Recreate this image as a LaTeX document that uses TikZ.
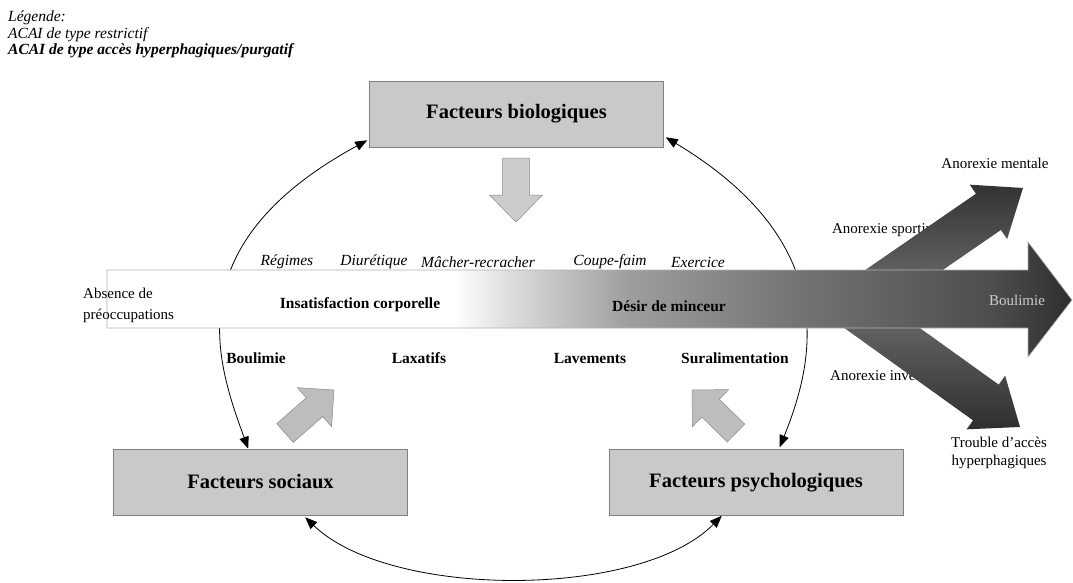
\documentclass[tikz,border=0pt]{standalone}
\usepackage{fontspec}
\setmainfont{Liberation Serif}
\usetikzlibrary{arrows.meta,calc}

\definecolor{boxfill}{gray}{0.79}
\definecolor{boxline}{gray}{0.5}
\definecolor{blockfill}{gray}{0.74}
\definecolor{blocklight}{gray}{0.80}
\definecolor{blockline}{gray}{0.55}
\definecolor{bs1}{gray}{0.86}
\definecolor{bs2}{gray}{0.62}
\definecolor{bs3}{gray}{0.45}
\definecolor{bs4}{gray}{0.30}
\definecolor{bs5}{gray}{0.18}
\definecolor{lightlbl}{gray}{0.80}

% white on the left, darkening towards the arrow head
\pgfdeclarehorizontalshading{bandshade}{100bp}{color(0bp)=(white); color(25bp)=(white); color(43bp)=(white); color(46bp)=(bs1); color(52bp)=(bs2); color(61bp)=(bs3); color(71bp)=(bs4); color(75bp)=(bs5); color(100bp)=(bs5)}

% block arrow: style, tail, tip, shaft half-width, head half-width, head length
\newcommand\blockarrow[6]{%
  \coordinate (ba-m) at ($(#3)!#6!(#2)$);
  \path[#1] ($(#2)!#4!90:(#3)$) -- ($(ba-m)!#4!90:(#3)$) -- ($(ba-m)!#5!90:(#3)$)
    -- (#3) -- ($(ba-m)!#5!-90:(#3)$) -- ($(ba-m)!#4!-90:(#3)$) -- ($(#2)!#4!-90:(#3)$) -- cycle;}

\tikzset{
  factor/.style={draw=boxline, fill=boxfill, line width=0.6pt, minimum width=294pt,
    minimum height=66pt, inner sep=0pt, font=\fontsize{20.5}{24}\selectfont\bfseries},
  ital/.style={font=\fontsize{15.5}{18}\selectfont\itshape, inner sep=0pt},
  boldlbl/.style={font=\fontsize{15.5}{18}\selectfont\bfseries, inner sep=0pt},
  plain/.style={font=\fontsize{15}{18}\selectfont, inner sep=0pt},
  legend/.style={font=\fontsize{15.5}{18}\selectfont\itshape, inner sep=0pt, anchor=base west},
  link/.style={line width=0.8pt, {Triangle[length=12pt,width=9.5pt]}-{Triangle[length=12pt,width=9.5pt]}},
}

\begin{document}
\begin{tikzpicture}[x=1pt, y=-1pt]
\useasboundingbox (0,0) rectangle (1073,583);
\fill[white] (0,0) rectangle (1073,583);

% legend
\node[legend] (lg1) at (8,22) {Légende:};
\node[legend] (lg2) at (8,38.5) {ACAI de type restrictif};
\node[legend, font=\fontsize{15.5}{18}\selectfont\itshape\bfseries] (lg3) at (8,55) {ACAI de type accès hyperphagiques/purgatif};

% the three groups of factors
\node[factor] (bio) at (516.5,114) {Facteurs biologiques};
\node[factor] (soc) at (260.5,482) {Facteurs sociaux};
\node[factor] (psych) at (756,482.5) {Facteurs psychologiques};

\coordinate (sA) at ($(soc.north west)+(135,0)$);
\coordinate (bA) at ($(bio.south west)+(-2,-7)$);
\coordinate (bB) at ($(bio.south east)+(2,-10)$);
\coordinate (pA) at ($(psych.north west)+(171,-2)$);
\coordinate (sB) at ($(soc.south west)+(192,2)$);
\coordinate (pB) at ($(psych.south west)+(113,0)$);

% interactions between the factors
\draw[link] (sA) .. controls (215.6,359.4) and (176.6,244.2) .. (bA);
\draw[link] (bB) .. controls (842.5,243.7) and (814.4,361.3) .. (pA);
\draw[link] (sB) .. controls (390,599) and (640,599) .. (pB);

% outcome labels partly hidden by the branching arrows
\node[plain] (sport) at (886,230) {Anorexie sportive};
\node[plain] (inv) at (885,375) {Anorexie inversée};
\node[plain] (ment) at (995,163) {Anorexie mentale};
\node[plain, align=center] (tah) at (999,452.5) {Trouble d’accès\\hyperphagiques};

% branching arrows
\blockarrow{top color=black!80, bottom color=black!55}{875,290}{1023,188}{22pt}{33pt}{42pt}
\blockarrow{top color=black!55, bottom color=black!82}{857,310}{1020,427}{22pt}{33pt}{42pt}

% continuum band
\shadedraw[shading=bandshade, draw=black!30, line width=0.6pt]
  (107,270) -- (1028,270) -- (1028,242) -- (1072,300) -- (1028,357) -- (1028,328) -- (107,328) -- cycle;

\node[plain, align=left, anchor=west, font=\fontsize{15}{21}\selectfont] (abs) at (83,305.5) {Absence de\\préoccupations};
\node[boldlbl] (insat) at (360,305) {Insatisfaction corporelle};
\node[boldlbl] (desir) at (669,306) {Désir de minceur};
\node[plain, text=lightlbl] (boul) at (1017,300) {Boulimie};

% restrictive behaviours
\node[ital] (reg) at (287,262) {Régimes};
\node[ital] (diur) at (374,262) {Diurétique};
\node[ital] (mach) at (478,262) {Mâcher-recracher};
\node[ital] (coupe) at (610,262) {Coupe-faim};
\node[ital] (exer) at (698,262) {Exercice};

% binge / purging behaviours
\node[boldlbl] (boul2) at (256,358) {Boulimie};
\node[boldlbl] (lax) at (419,358) {Laxatifs};
\node[boldlbl] (lav) at (590,358) {Lavements};
\node[boldlbl] (sural) at (735,358) {Suralimentation};

% influence arrows towards the band
\blockarrow{fill=blocklight, draw=blockline, line width=0.5pt}{516,158}{516,222}{13.5pt}{26.5pt}{27pt}
\blockarrow{fill=blockfill, draw=blockline, line width=0.5pt}{285,433}{334,390}{12.5pt}{26pt}{26pt}
\blockarrow{fill=blockfill, draw=blockline, line width=0.5pt}{736,433}{692,390}{12.5pt}{26pt}{26pt}
\end{tikzpicture}
\end{document}
